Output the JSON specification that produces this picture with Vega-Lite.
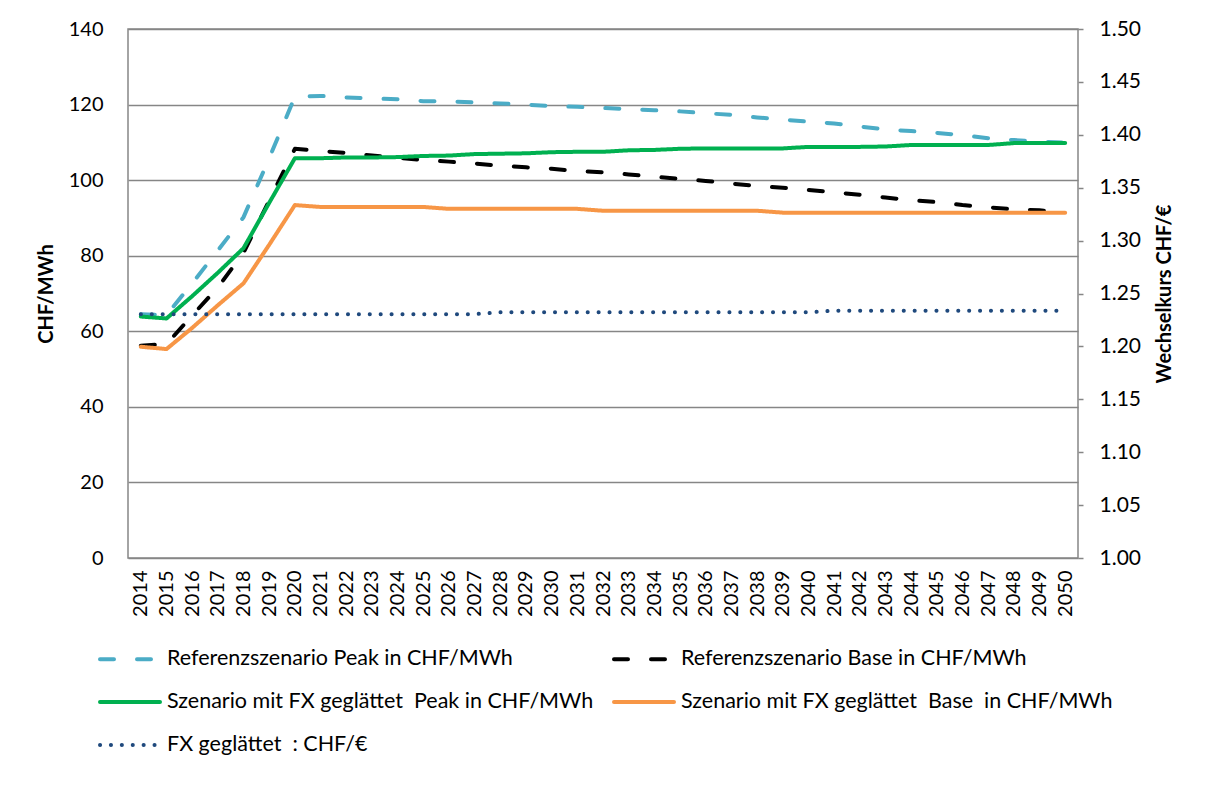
{
  "$schema": "https://vega.github.io/schema/vega-lite/v6.json",
  "width": 950,
  "height": 529,
  "autosize": {"type": "none"},
  "padding": {"left": 128, "top": 29, "right": 131, "bottom": 242},
  "background": "white",
  "config": {
    "font": "Lato",
    "view": {"stroke": "#868686", "strokeWidth": 1.5},
    "axis": {"labelColor": "#000000", "titleColor": "#000000", "labelFontSize": 20, "titleFontSize": 20, "labelFont": "Lato", "titleFont": "Lato", "domain": false}
  },
  "datasets": {
    "prices": [
      {"year": "2014", "series": "Referenzszenario Peak in CHF/MWh", "value": 64.5},
      {"year": "2015", "series": "Referenzszenario Peak in CHF/MWh", "value": 64.3},
      {"year": "2016", "series": "Referenzszenario Peak in CHF/MWh", "value": 72.7},
      {"year": "2017", "series": "Referenzszenario Peak in CHF/MWh", "value": 81.4},
      {"year": "2018", "series": "Referenzszenario Peak in CHF/MWh", "value": 90.2},
      {"year": "2019", "series": "Referenzszenario Peak in CHF/MWh", "value": 105.8},
      {"year": "2020", "series": "Referenzszenario Peak in CHF/MWh", "value": 122.1},
      {"year": "2021", "series": "Referenzszenario Peak in CHF/MWh", "value": 122.3},
      {"year": "2022", "series": "Referenzszenario Peak in CHF/MWh", "value": 121.9},
      {"year": "2023", "series": "Referenzszenario Peak in CHF/MWh", "value": 121.6},
      {"year": "2024", "series": "Referenzszenario Peak in CHF/MWh", "value": 121.4},
      {"year": "2025", "series": "Referenzszenario Peak in CHF/MWh", "value": 120.9},
      {"year": "2026", "series": "Referenzszenario Peak in CHF/MWh", "value": 120.8},
      {"year": "2027", "series": "Referenzszenario Peak in CHF/MWh", "value": 120.6},
      {"year": "2028", "series": "Referenzszenario Peak in CHF/MWh", "value": 120.3},
      {"year": "2029", "series": "Referenzszenario Peak in CHF/MWh", "value": 120.0},
      {"year": "2030", "series": "Referenzszenario Peak in CHF/MWh", "value": 119.6},
      {"year": "2031", "series": "Referenzszenario Peak in CHF/MWh", "value": 119.4},
      {"year": "2032", "series": "Referenzszenario Peak in CHF/MWh", "value": 119.1},
      {"year": "2033", "series": "Referenzszenario Peak in CHF/MWh", "value": 118.8},
      {"year": "2034", "series": "Referenzszenario Peak in CHF/MWh", "value": 118.5},
      {"year": "2035", "series": "Referenzszenario Peak in CHF/MWh", "value": 118.2},
      {"year": "2036", "series": "Referenzszenario Peak in CHF/MWh", "value": 117.7},
      {"year": "2037", "series": "Referenzszenario Peak in CHF/MWh", "value": 117.3},
      {"year": "2038", "series": "Referenzszenario Peak in CHF/MWh", "value": 116.6},
      {"year": "2039", "series": "Referenzszenario Peak in CHF/MWh", "value": 116.0},
      {"year": "2040", "series": "Referenzszenario Peak in CHF/MWh", "value": 115.5},
      {"year": "2041", "series": "Referenzszenario Peak in CHF/MWh", "value": 115.0},
      {"year": "2042", "series": "Referenzszenario Peak in CHF/MWh", "value": 114.2},
      {"year": "2043", "series": "Referenzszenario Peak in CHF/MWh", "value": 113.4},
      {"year": "2044", "series": "Referenzszenario Peak in CHF/MWh", "value": 113.0},
      {"year": "2045", "series": "Referenzszenario Peak in CHF/MWh", "value": 112.5},
      {"year": "2046", "series": "Referenzszenario Peak in CHF/MWh", "value": 111.9},
      {"year": "2047", "series": "Referenzszenario Peak in CHF/MWh", "value": 111.1},
      {"year": "2048", "series": "Referenzszenario Peak in CHF/MWh", "value": 110.6},
      {"year": "2049", "series": "Referenzszenario Peak in CHF/MWh", "value": 110.2},
      {"year": "2050", "series": "Referenzszenario Peak in CHF/MWh", "value": 109.9},

      {"year": "2014", "series": "Referenzszenario Base in CHF/MWh", "value": 56.2},
      {"year": "2015", "series": "Referenzszenario Base in CHF/MWh", "value": 56.6},
      {"year": "2016", "series": "Referenzszenario Base in CHF/MWh", "value": 64.2},
      {"year": "2017", "series": "Referenzszenario Base in CHF/MWh", "value": 71.6},
      {"year": "2018", "series": "Referenzszenario Base in CHF/MWh", "value": 80.8},
      {"year": "2019", "series": "Referenzszenario Base in CHF/MWh", "value": 94.6},
      {"year": "2020", "series": "Referenzszenario Base in CHF/MWh", "value": 108.3},
      {"year": "2021", "series": "Referenzszenario Base in CHF/MWh", "value": 107.7},
      {"year": "2022", "series": "Referenzszenario Base in CHF/MWh", "value": 107.2},
      {"year": "2023", "series": "Referenzszenario Base in CHF/MWh", "value": 106.5},
      {"year": "2024", "series": "Referenzszenario Base in CHF/MWh", "value": 105.9},
      {"year": "2025", "series": "Referenzszenario Base in CHF/MWh", "value": 105.3},
      {"year": "2026", "series": "Referenzszenario Base in CHF/MWh", "value": 104.9},
      {"year": "2027", "series": "Referenzszenario Base in CHF/MWh", "value": 104.4},
      {"year": "2028", "series": "Referenzszenario Base in CHF/MWh", "value": 103.8},
      {"year": "2029", "series": "Referenzszenario Base in CHF/MWh", "value": 103.4},
      {"year": "2030", "series": "Referenzszenario Base in CHF/MWh", "value": 103.0},
      {"year": "2031", "series": "Referenzszenario Base in CHF/MWh", "value": 102.4},
      {"year": "2032", "series": "Referenzszenario Base in CHF/MWh", "value": 102.1},
      {"year": "2033", "series": "Referenzszenario Base in CHF/MWh", "value": 101.5},
      {"year": "2034", "series": "Referenzszenario Base in CHF/MWh", "value": 100.9},
      {"year": "2035", "series": "Referenzszenario Base in CHF/MWh", "value": 100.3},
      {"year": "2036", "series": "Referenzszenario Base in CHF/MWh", "value": 99.8},
      {"year": "2037", "series": "Referenzszenario Base in CHF/MWh", "value": 99.1},
      {"year": "2038", "series": "Referenzszenario Base in CHF/MWh", "value": 98.4},
      {"year": "2039", "series": "Referenzszenario Base in CHF/MWh", "value": 98.0},
      {"year": "2040", "series": "Referenzszenario Base in CHF/MWh", "value": 97.4},
      {"year": "2041", "series": "Referenzszenario Base in CHF/MWh", "value": 96.8},
      {"year": "2042", "series": "Referenzszenario Base in CHF/MWh", "value": 96.1},
      {"year": "2043", "series": "Referenzszenario Base in CHF/MWh", "value": 95.4},
      {"year": "2044", "series": "Referenzszenario Base in CHF/MWh", "value": 94.7},
      {"year": "2045", "series": "Referenzszenario Base in CHF/MWh", "value": 94.2},
      {"year": "2046", "series": "Referenzszenario Base in CHF/MWh", "value": 93.4},
      {"year": "2047", "series": "Referenzszenario Base in CHF/MWh", "value": 92.8},
      {"year": "2048", "series": "Referenzszenario Base in CHF/MWh", "value": 92.3},
      {"year": "2049", "series": "Referenzszenario Base in CHF/MWh", "value": 92.0},
      {"year": "2050", "series": "Referenzszenario Base in CHF/MWh", "value": 91.6},

      {"year": "2014", "series": "Szenario mit FX geglättet  Peak in CHF/MWh", "value": 63.9},
      {"year": "2015", "series": "Szenario mit FX geglättet  Peak in CHF/MWh", "value": 63.4},
      {"year": "2016", "series": "Szenario mit FX geglättet  Peak in CHF/MWh", "value": 69.3},
      {"year": "2017", "series": "Szenario mit FX geglättet  Peak in CHF/MWh", "value": 75.5},
      {"year": "2018", "series": "Szenario mit FX geglättet  Peak in CHF/MWh", "value": 82.0},
      {"year": "2019", "series": "Szenario mit FX geglättet  Peak in CHF/MWh", "value": 94.0},
      {"year": "2020", "series": "Szenario mit FX geglättet  Peak in CHF/MWh", "value": 105.8},
      {"year": "2021", "series": "Szenario mit FX geglättet  Peak in CHF/MWh", "value": 105.8},
      {"year": "2022", "series": "Szenario mit FX geglättet  Peak in CHF/MWh", "value": 106.0},
      {"year": "2023", "series": "Szenario mit FX geglättet  Peak in CHF/MWh", "value": 106.0},
      {"year": "2024", "series": "Szenario mit FX geglättet  Peak in CHF/MWh", "value": 106.1},
      {"year": "2025", "series": "Szenario mit FX geglättet  Peak in CHF/MWh", "value": 106.4},
      {"year": "2026", "series": "Szenario mit FX geglättet  Peak in CHF/MWh", "value": 106.5},
      {"year": "2027", "series": "Szenario mit FX geglättet  Peak in CHF/MWh", "value": 106.9},
      {"year": "2028", "series": "Szenario mit FX geglättet  Peak in CHF/MWh", "value": 107.0},
      {"year": "2029", "series": "Szenario mit FX geglättet  Peak in CHF/MWh", "value": 107.1},
      {"year": "2030", "series": "Szenario mit FX geglättet  Peak in CHF/MWh", "value": 107.4},
      {"year": "2031", "series": "Szenario mit FX geglättet  Peak in CHF/MWh", "value": 107.5},
      {"year": "2032", "series": "Szenario mit FX geglättet  Peak in CHF/MWh", "value": 107.5},
      {"year": "2033", "series": "Szenario mit FX geglättet  Peak in CHF/MWh", "value": 107.9},
      {"year": "2034", "series": "Szenario mit FX geglättet  Peak in CHF/MWh", "value": 108.0},
      {"year": "2035", "series": "Szenario mit FX geglättet  Peak in CHF/MWh", "value": 108.3},
      {"year": "2036", "series": "Szenario mit FX geglättet  Peak in CHF/MWh", "value": 108.4},
      {"year": "2037", "series": "Szenario mit FX geglättet  Peak in CHF/MWh", "value": 108.4},
      {"year": "2038", "series": "Szenario mit FX geglättet  Peak in CHF/MWh", "value": 108.4},
      {"year": "2039", "series": "Szenario mit FX geglättet  Peak in CHF/MWh", "value": 108.4},
      {"year": "2040", "series": "Szenario mit FX geglättet  Peak in CHF/MWh", "value": 108.8},
      {"year": "2041", "series": "Szenario mit FX geglättet  Peak in CHF/MWh", "value": 108.8},
      {"year": "2042", "series": "Szenario mit FX geglättet  Peak in CHF/MWh", "value": 108.8},
      {"year": "2043", "series": "Szenario mit FX geglättet  Peak in CHF/MWh", "value": 108.9},
      {"year": "2044", "series": "Szenario mit FX geglättet  Peak in CHF/MWh", "value": 109.3},
      {"year": "2045", "series": "Szenario mit FX geglättet  Peak in CHF/MWh", "value": 109.3},
      {"year": "2046", "series": "Szenario mit FX geglättet  Peak in CHF/MWh", "value": 109.3},
      {"year": "2047", "series": "Szenario mit FX geglättet  Peak in CHF/MWh", "value": 109.3},
      {"year": "2048", "series": "Szenario mit FX geglättet  Peak in CHF/MWh", "value": 109.8},
      {"year": "2049", "series": "Szenario mit FX geglättet  Peak in CHF/MWh", "value": 109.8},
      {"year": "2050", "series": "Szenario mit FX geglättet  Peak in CHF/MWh", "value": 109.8},

      {"year": "2014", "series": "Szenario mit FX geglättet  Base  in CHF/MWh", "value": 55.9},
      {"year": "2015", "series": "Szenario mit FX geglättet  Base  in CHF/MWh", "value": 55.3},
      {"year": "2016", "series": "Szenario mit FX geglättet  Base  in CHF/MWh", "value": 60.9},
      {"year": "2017", "series": "Szenario mit FX geglättet  Base  in CHF/MWh", "value": 66.9},
      {"year": "2018", "series": "Szenario mit FX geglättet  Base  in CHF/MWh", "value": 72.7},
      {"year": "2019", "series": "Szenario mit FX geglättet  Base  in CHF/MWh", "value": 82.9},
      {"year": "2020", "series": "Szenario mit FX geglättet  Base  in CHF/MWh", "value": 93.4},
      {"year": "2021", "series": "Szenario mit FX geglättet  Base  in CHF/MWh", "value": 92.9},
      {"year": "2022", "series": "Szenario mit FX geglättet  Base  in CHF/MWh", "value": 92.9},
      {"year": "2023", "series": "Szenario mit FX geglättet  Base  in CHF/MWh", "value": 92.9},
      {"year": "2024", "series": "Szenario mit FX geglättet  Base  in CHF/MWh", "value": 92.9},
      {"year": "2025", "series": "Szenario mit FX geglättet  Base  in CHF/MWh", "value": 92.9},
      {"year": "2026", "series": "Szenario mit FX geglättet  Base  in CHF/MWh", "value": 92.4},
      {"year": "2027", "series": "Szenario mit FX geglättet  Base  in CHF/MWh", "value": 92.4},
      {"year": "2028", "series": "Szenario mit FX geglättet  Base  in CHF/MWh", "value": 92.4},
      {"year": "2029", "series": "Szenario mit FX geglättet  Base  in CHF/MWh", "value": 92.4},
      {"year": "2030", "series": "Szenario mit FX geglättet  Base  in CHF/MWh", "value": 92.4},
      {"year": "2031", "series": "Szenario mit FX geglättet  Base  in CHF/MWh", "value": 92.4},
      {"year": "2032", "series": "Szenario mit FX geglättet  Base  in CHF/MWh", "value": 91.9},
      {"year": "2033", "series": "Szenario mit FX geglättet  Base  in CHF/MWh", "value": 91.9},
      {"year": "2034", "series": "Szenario mit FX geglättet  Base  in CHF/MWh", "value": 91.9},
      {"year": "2035", "series": "Szenario mit FX geglättet  Base  in CHF/MWh", "value": 91.9},
      {"year": "2036", "series": "Szenario mit FX geglättet  Base  in CHF/MWh", "value": 91.9},
      {"year": "2037", "series": "Szenario mit FX geglättet  Base  in CHF/MWh", "value": 91.9},
      {"year": "2038", "series": "Szenario mit FX geglättet  Base  in CHF/MWh", "value": 91.9},
      {"year": "2039", "series": "Szenario mit FX geglättet  Base  in CHF/MWh", "value": 91.4},
      {"year": "2040", "series": "Szenario mit FX geglättet  Base  in CHF/MWh", "value": 91.4},
      {"year": "2041", "series": "Szenario mit FX geglättet  Base  in CHF/MWh", "value": 91.4},
      {"year": "2042", "series": "Szenario mit FX geglättet  Base  in CHF/MWh", "value": 91.4},
      {"year": "2043", "series": "Szenario mit FX geglättet  Base  in CHF/MWh", "value": 91.4},
      {"year": "2044", "series": "Szenario mit FX geglättet  Base  in CHF/MWh", "value": 91.4},
      {"year": "2045", "series": "Szenario mit FX geglättet  Base  in CHF/MWh", "value": 91.4},
      {"year": "2046", "series": "Szenario mit FX geglättet  Base  in CHF/MWh", "value": 91.4},
      {"year": "2047", "series": "Szenario mit FX geglättet  Base  in CHF/MWh", "value": 91.4},
      {"year": "2048", "series": "Szenario mit FX geglättet  Base  in CHF/MWh", "value": 91.4},
      {"year": "2049", "series": "Szenario mit FX geglättet  Base  in CHF/MWh", "value": 91.4},
      {"year": "2050", "series": "Szenario mit FX geglättet  Base  in CHF/MWh", "value": 91.4}
    ],
    "fx": [
      {"year": "2014", "series": "FX geglättet  : CHF/€", "value": 1.2305},
      {"year": "2015", "series": "FX geglättet  : CHF/€", "value": 1.2305},
      {"year": "2016", "series": "FX geglättet  : CHF/€", "value": 1.2305},
      {"year": "2017", "series": "FX geglättet  : CHF/€", "value": 1.2305},
      {"year": "2018", "series": "FX geglättet  : CHF/€", "value": 1.2305},
      {"year": "2019", "series": "FX geglättet  : CHF/€", "value": 1.2305},
      {"year": "2020", "series": "FX geglättet  : CHF/€", "value": 1.2305},
      {"year": "2021", "series": "FX geglättet  : CHF/€", "value": 1.2305},
      {"year": "2022", "series": "FX geglättet  : CHF/€", "value": 1.2305},
      {"year": "2023", "series": "FX geglättet  : CHF/€", "value": 1.2305},
      {"year": "2024", "series": "FX geglättet  : CHF/€", "value": 1.2305},
      {"year": "2025", "series": "FX geglättet  : CHF/€", "value": 1.2305},
      {"year": "2026", "series": "FX geglättet  : CHF/€", "value": 1.2305},
      {"year": "2027", "series": "FX geglättet  : CHF/€", "value": 1.2305},
      {"year": "2028", "series": "FX geglättet  : CHF/€", "value": 1.2322},
      {"year": "2029", "series": "FX geglättet  : CHF/€", "value": 1.2322},
      {"year": "2030", "series": "FX geglättet  : CHF/€", "value": 1.2322},
      {"year": "2031", "series": "FX geglättet  : CHF/€", "value": 1.2322},
      {"year": "2032", "series": "FX geglättet  : CHF/€", "value": 1.2322},
      {"year": "2033", "series": "FX geglättet  : CHF/€", "value": 1.2322},
      {"year": "2034", "series": "FX geglättet  : CHF/€", "value": 1.2322},
      {"year": "2035", "series": "FX geglättet  : CHF/€", "value": 1.2322},
      {"year": "2036", "series": "FX geglättet  : CHF/€", "value": 1.2322},
      {"year": "2037", "series": "FX geglättet  : CHF/€", "value": 1.2322},
      {"year": "2038", "series": "FX geglättet  : CHF/€", "value": 1.2322},
      {"year": "2039", "series": "FX geglättet  : CHF/€", "value": 1.2322},
      {"year": "2040", "series": "FX geglättet  : CHF/€", "value": 1.2322},
      {"year": "2041", "series": "FX geglättet  : CHF/€", "value": 1.2338},
      {"year": "2042", "series": "FX geglättet  : CHF/€", "value": 1.2338},
      {"year": "2043", "series": "FX geglättet  : CHF/€", "value": 1.2338},
      {"year": "2044", "series": "FX geglättet  : CHF/€", "value": 1.2338},
      {"year": "2045", "series": "FX geglättet  : CHF/€", "value": 1.2338},
      {"year": "2046", "series": "FX geglättet  : CHF/€", "value": 1.2338},
      {"year": "2047", "series": "FX geglättet  : CHF/€", "value": 1.2338},
      {"year": "2048", "series": "FX geglättet  : CHF/€", "value": 1.2338},
      {"year": "2049", "series": "FX geglättet  : CHF/€", "value": 1.2338},
      {"year": "2050", "series": "FX geglättet  : CHF/€", "value": 1.2338}
    ]
  },
  "encoding": {
    "x": {
      "field": "year", "type": "ordinal",
      "scale": {"type": "point", "padding": 0.5},
      "axis": {"title": null, "labelAngle": -90, "ticks": false, "grid": false, "labelPadding": 12}
    }
  },
  "layer": [
    {
      "data": {"name": "prices"},
      "mark": {"type": "line", "strokeWidth": 4, "strokeCap": "round", "strokeJoin": "round"},
      "encoding": {
        "y": {
          "field": "value", "type": "quantitative",
          "scale": {"domain": [0, 140], "nice": false, "zero": true},
          "axis": {"title": "CHF/MWh", "titleFontWeight": "bold", "values": [0, 20, 40, 60, 80, 100, 120, 140], "grid": true, "gridColor": "#868686", "gridWidth": 1.5, "ticks": false, "labelPadding": 25, "titlePadding": 12}
        },
        "color": {
          "field": "series", "type": "nominal",
          "scale": {
            "domain": ["Referenzszenario Peak in CHF/MWh", "Referenzszenario Base in CHF/MWh", "Szenario mit FX geglättet  Peak in CHF/MWh", "Szenario mit FX geglättet  Base  in CHF/MWh", "FX geglättet  : CHF/€"],
            "range": ["#4BACC6", "#000000", "#00B050", "#F79646", "#1F497D"]
          },
          "legend": {
            "title": null, "orient": "none", "legendX": -30, "legendY": 598, "direction": "horizontal", "columns": 2,
            "columnPadding": 12, "rowPadding": 0, "padding": 0,
            "symbolType": "stroke", "symbolSize": 3600, "symbolStrokeWidth": 4,
            "labelFontSize": 21.5, "labelFont": "Lato", "labelColor": "#000000", "labelLimit": 0, "labelOffset": 5,
            "labelExpr": "replace(datum.label, regexp('  ', 'g'), '\u00a0\u00a0')",
            "encoding": {"symbols": {"strokeCap": {"value": "round"}}}
          }
        },
        "strokeDash": {
          "field": "series", "type": "nominal",
          "scale": {
            "domain": ["Referenzszenario Peak in CHF/MWh", "Referenzszenario Base in CHF/MWh", "Szenario mit FX geglättet  Peak in CHF/MWh", "Szenario mit FX geglättet  Base  in CHF/MWh", "FX geglättet  : CHF/€"],
            "range": [[14, 23], [14, 23], [1, 0], [1, 0], [0.1, 10.8]]
          }
        }
      }
    },
    {
      "data": {"name": "fx"},
      "mark": {"type": "line", "strokeWidth": 4, "strokeCap": "round", "strokeJoin": "round"},
      "encoding": {
        "y": {
          "field": "value", "type": "quantitative",
          "scale": {"domain": [1.0, 1.5], "nice": false, "zero": false},
          "axis": {"orient": "right", "title": "Wechselkurs CHF/€", "titleFontWeight": "bold", "titleAngle": 270, "titleBaseline": "top", "format": ".2f", "values": [1.0, 1.05, 1.1, 1.15, 1.2, 1.25, 1.3, 1.35, 1.4, 1.45, 1.5], "grid": false, "ticks": true, "tickSize": 5, "tickColor": "#868686", "tickWidth": 1.5, "labelPadding": 16, "labelFontSize": 21, "titlePadding": 14}
        },
        "color": {"field": "series", "type": "nominal"},
        "strokeDash": {"field": "series", "type": "nominal"}
      }
    }
  ],
  "resolve": {"scale": {"y": "independent"}}
}
